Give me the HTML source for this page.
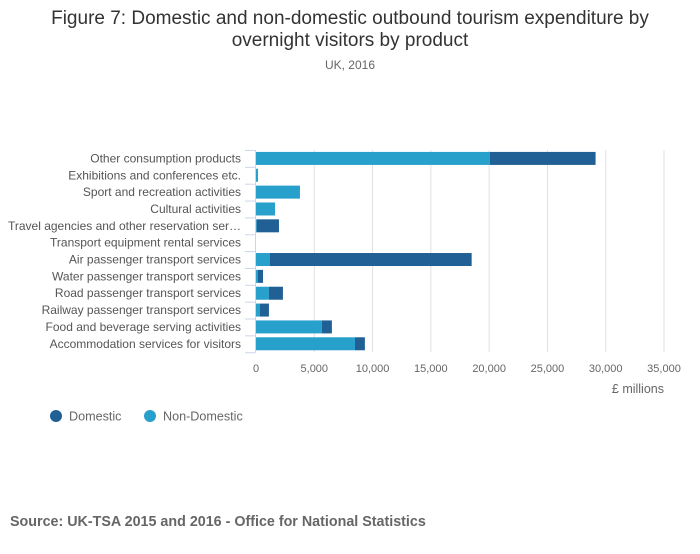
<!DOCTYPE html>
<html><head><meta charset="utf-8"><style>
body{margin:0;background:#fff;font-family:"Liberation Sans",sans-serif;}
svg text{font-family:"Liberation Sans",sans-serif;}
</style></head><body>
<svg id="chart" width="700" height="549" xmlns="http://www.w3.org/2000/svg">
<rect width="700" height="549" fill="#fff"/>
<text x="350" y="24" text-anchor="middle" font-size="19" fill="#333">Figure 7: Domestic and non-domestic outbound tourism expenditure by</text>
<text x="350" y="46" text-anchor="middle" font-size="19" fill="#333">overnight visitors by product</text>
<text x="350" y="69" text-anchor="middle" font-size="12" fill="#666">UK, 2016</text>
<g id="grid"></g><g id="bars"></g><g id="labels"></g><g id="xticks"></g>
<text x="664" y="393" text-anchor="end" font-size="12.5" fill="#666">£ millions</text>
<g><circle cx="56" cy="416" r="6" fill="#206095"/><text x="69" y="420.5" font-size="12.6" fill="#666">Domestic</text></g>
<g><circle cx="150" cy="416" r="6" fill="#27a0cc"/><text x="163" y="420.5" font-size="12.6" fill="#666">Non-Domestic</text></g>
<text x="10" y="526" font-size="14.3" font-weight="bold" fill="#666">Source: UK-TSA 2015 and 2016 - Office for National Statistics</text>
</svg>
<script>
const categories=["Other consumption products","Exhibitions and conferences etc.","Sport and recreation activities","Cultural activities","Travel agencies and other reservation ser…","Transport equipment rental services","Air passenger transport services","Water passenger transport services","Road passenger transport services","Railway passenger transport services","Food and beverage serving activities","Accommodation services for visitors"];
const nonDomestic=[20050,170,3770,1630,60,0,1200,170,1110,340,5650,8490];
const domestic=[9080,0,0,0,1910,0,17300,430,1200,770,860,850];
const xTicks=[0,5000,10000,15000,20000,25000,30000,35000];
const tickLabels=["0","5,000","10,000","15,000","20,000","25,000","30,000","35,000"];
const NS="http://www.w3.org/2000/svg";
const x0=256,x1=664,xMax=35000,yTop=150,band=16.85;
const xs=v=>x0+v/xMax*(x1-x0);
const yb=i=>yTop+i*band;
function mk(t,a,p){const e=document.createElementNS(NS,t);for(const k in a)e.setAttribute(k,a[k]);p.appendChild(e);return e;}
const grid=document.getElementById('grid'),bars=document.getElementById('bars'),labels=document.getElementById('labels'),xt=document.getElementById('xticks');
xTicks.forEach((t,i)=>{
 if(i>0){const g=mk('line',{x1:xs(t),x2:xs(t),y1:yTop,y2:yb(12),stroke:'#e0e0e0','stroke-width':1},grid);
 
 }
 const tx=mk('text',{x:xs(t),y:372,'text-anchor':'middle','font-size':11,fill:'#666'},xt);tx.textContent=tickLabels[i];
 
 
});
const ax=mk('line',{x1:255.5,x2:255.5,y1:yTop,y2:yb(12),stroke:'#ccd6eb','stroke-width':1},grid);


for(let i=0;i<=12;i++){const tk=mk('line',{x1:245,x2:255.5,y1:yb(i)+0.5,y2:yb(i)+0.5,stroke:'#ccd6eb','stroke-width':1},grid);
 
 }
categories.forEach((c,i)=>{
 const y=yb(i)+(band-13)/2;
 const l=mk('text',{x:241,y:yb(i)+band/2+4,'text-anchor':'end','font-size':12,fill:'#555'},labels);l.textContent=c;
 
 
 if(nonDomestic[i]>0){const r=mk('rect',{x:xs(0),y:y,width:xs(nonDomestic[i])-xs(0),height:13,fill:'#27a0cc'},bars);
 
 }
 if(domestic[i]>0){const r=mk('rect',{x:xs(nonDomestic[i]),y:y,width:xs(nonDomestic[i]+domestic[i])-xs(nonDomestic[i]),height:13,fill:'#206095'},bars);
 
 }
});
</script>
</body></html>
